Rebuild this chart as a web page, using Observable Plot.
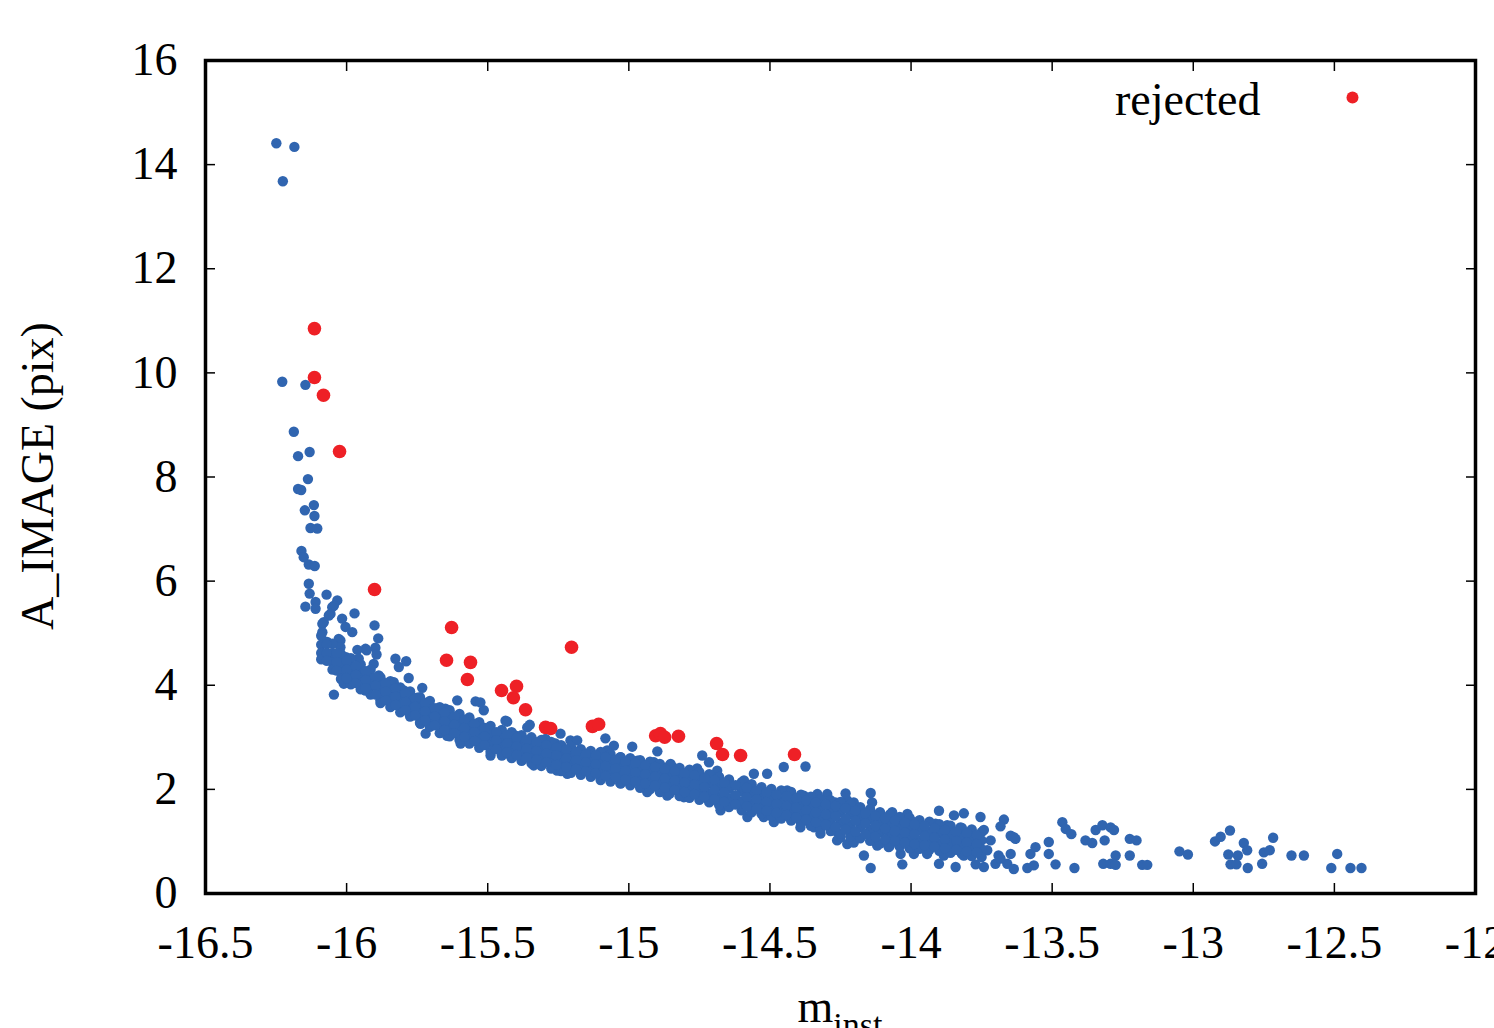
<!DOCTYPE html>
<html><head><meta charset="utf-8">
<script src="https://cdn.jsdelivr.net/npm/d3@7"></script>
<script src="https://cdn.jsdelivr.net/npm/@observablehq/plot@0.6"></script>
<style>
html,body{margin:0;padding:0;background:#fff;overflow:hidden;}
#chart svg{max-width:none !important;}
</style></head><body><div id="chart"></div>
<script>
// ---- tick values ----
const xTicks = [-16.5, -16, -15.5, -15, -14.5, -14, -13.5, -13, -12.5, -12];
const yTicks = [0, 2, 4, 6, 8, 10, 12, 14, 16];

// ---- rejected points (m_inst, A_IMAGE) ----
const rejectedMag = [-16.114,-16.114,-16.082,-16.025,-15.901,-15.628,-15.646,-15.561,-15.572,-15.203,-15.451,-15.398,-15.409,-15.366,-15.295,-15.277,-15.129,-15.107,-14.905,-14.888,-14.873,-14.824,-14.689,-14.668,-14.604,-14.413];
const rejectedA   = [10.85,9.91,9.57,8.49,5.84,5.11,4.48,4.44,4.11,4.73,3.90,3.98,3.76,3.53,3.19,3.17,3.21,3.25,3.03,3.07,3.00,3.02,2.88,2.67,2.65,2.67];

// ---- accepted points: bright tail ----
const acceptedBright = [[-16.249,14.41],[-16.185,14.34],[-16.226,13.68],[-16.228,9.83],[-16.146,9.77],[-16.187,8.87],[-16.172,8.40],[-16.131,8.48],[-16.137,7.96],[-16.172,7.77],[-16.161,7.75],[-16.116,7.46],[-16.148,7.36],[-16.114,7.25],[-16.128,7.02],[-16.104,7.01],[-16.160,6.58],[-16.152,6.46],[-16.134,6.32],[-16.113,6.29],[-16.134,5.95],[-16.131,5.76],[-16.071,5.74],[-16.033,5.63]];

// ---- accepted points: band, individually read ----
const acceptedBand = [[-16.110,5.60],[-16.146,5.51],[-16.110,5.47],[-16.045,5.53],[-16.051,5.50],[-15.972,5.38],[-16.057,5.37],[-16.063,5.34],[-16.016,5.28],[-16.081,5.21],[-16.086,5.18],[-15.901,5.15],[-16.004,5.12],[-16.086,5.02],[-15.980,5.02],[-16.069,4.83],[-16.028,4.89],[-16.022,4.86],[-15.888,4.90],[-15.898,4.72],[-15.933,4.70],[-16.022,4.73],[-15.962,4.68],[-15.929,4.67],[-15.894,4.59],[-16.063,4.51],[-16.002,4.54],[-15.957,4.51],[-15.827,4.51],[-15.789,4.46],[-16.016,4.35],[-15.962,4.28],[-15.904,4.41],[-15.815,4.35],[-15.886,4.19],[-15.780,4.14],[-16.010,4.03],[-15.951,4.06],[-15.833,4.06],[-15.732,3.95],[-15.933,3.90],[-15.874,3.93],[-16.045,3.82],[-15.797,3.90],[-15.750,3.76],[-15.880,3.71],[-15.833,3.64],[-15.774,3.64],[-15.608,3.71],[-15.543,3.69],[-15.714,3.58],[-15.650,3.55],[-15.514,3.52],[-15.774,3.45],[-15.679,3.42],[-15.585,3.32],[-15.738,3.26],[-15.632,3.32],[-15.537,3.26],[-15.720,3.07],[-15.644,3.03],[-15.561,3.07],[-15.478,3.07],[-15.596,2.88],[-15.502,2.94],[-15.431,2.94],[-15.437,3.32],[-15.431,3.30],[-15.360,3.19],
[-15.351,3.24],[-15.526,3.67],[-15.508,3.10],[-15.478,2.97],[-15.431,3.00],[-15.401,3.03],[-15.378,2.94],[-15.342,2.94],[-15.295,2.97],[-15.242,3.07],[-15.207,2.94],[-15.183,2.94],[-15.260,2.88],[-15.083,2.98],[-14.988,2.82],[-14.899,2.73],[-15.490,2.65],[-15.419,2.65],[-15.348,2.62],[-15.289,2.55],[-15.218,2.65],[-15.147,2.59],[-15.077,2.75],[-15.029,2.62],[-14.970,2.55],[-14.911,2.52],[-14.852,2.49],[-15.337,2.46],[-15.254,2.36],[-15.171,2.33],[-15.100,2.40],[-15.041,2.23],[-14.970,2.17],[-14.899,2.11],[-14.828,2.17],[-14.935,1.95],[-14.864,1.88],[-15.029,2.11],[-15.218,2.30],
[-15.053,2.84],[-14.740,2.65],[-14.716,2.52],[-14.687,2.36],[-14.557,2.30],[-14.510,2.30],[-14.451,2.43],[-14.374,2.44],[-15.100,2.55],[-14.959,2.40],[-14.846,2.43],[-14.793,2.30],[-14.758,2.40],[-15.100,2.23],[-14.817,2.11],[-14.746,2.04],[-14.722,1.82],[-14.651,2.11],[-14.592,2.17],[-14.628,1.85],[-14.580,1.47],[-14.545,1.72],[-14.522,1.47],[-14.486,1.37],[-14.486,1.85],[-14.439,1.98],[-14.415,1.66],[-14.368,1.53],[-14.344,1.27],[-14.297,1.91],[-14.332,1.91],[-14.274,1.53],[-14.250,1.08],[-14.226,1.34],[-14.226,1.79],[-14.226,0.95],[-14.392,1.27],[-14.321,1.15],[-14.675,1.60],[-14.805,1.85],[-14.864,2.17],[-14.982,2.23],
[-14.380,1.88],[-14.232,1.92],[-14.143,1.93],[-14.268,1.75],[-14.203,1.75],[-14.138,1.75],[-14.392,1.53],[-14.344,1.56],[-14.214,1.56],[-14.155,1.56],[-14.114,1.53],[-14.067,1.56],[-14.013,1.53],[-13.901,1.59],[-13.848,1.50],[-13.813,1.54],[-13.754,1.47],[-13.671,1.42],[-14.357,1.34],[-14.297,1.34],[-14.179,1.34],[-14.120,1.34],[-14.049,1.37],[-13.990,1.37],[-13.913,1.34],[-13.872,1.31],[-13.825,1.27],[-13.742,1.22],[-13.683,1.29],[-13.636,1.08],[-14.262,1.18],[-14.203,1.15],[-14.132,1.15],[-14.079,1.18],[-14.013,1.21],[-13.943,1.15],[-13.884,1.11],[-13.801,1.11],[-14.262,1.02],[-14.203,0.98],[-14.120,0.92],[-14.079,0.89],[-14.037,1.02],[-13.978,0.95],[-13.919,0.95],[-13.860,0.98],[-13.777,1.02],[-13.718,1.02],[-14.167,0.73],[-14.037,0.76],[-13.990,0.76],[-13.943,0.76],[-13.884,0.73],[-13.813,0.73],[-13.754,0.76],[-13.730,0.83],[-13.690,0.73],[-13.647,0.76],[-13.577,0.76],[-13.559,0.89],[-13.512,0.99],[-13.512,0.76],[-14.143,0.49],[-14.031,0.56],[-13.901,0.57],[-13.842,0.51],[-13.771,0.56],[-13.742,0.51],[-13.701,0.57],[-13.659,0.57],[-13.636,0.47],[-13.588,0.49],[-13.565,0.54]];

// ---- accepted points: dense core of the band (magnitude, A values read per column) ----
const acceptedCore = [
[-16.09,[4.95,4.78,4.62,4.50]],[-16.05,[4.80,4.62,4.45,4.30]],[-16.02,[4.60,4.42,4.25,4.12]],[-15.985,[4.52,4.35,4.18,4.02]],
[-15.95,[4.40,4.22,4.05,3.92]],[-15.915,[4.30,4.14,3.98,3.82]],[-15.88,[4.15,3.99,3.83,3.66]],[-15.845,[4.08,3.92,3.76,3.58]],
[-15.81,[3.96,3.80,3.64,3.48]],[-15.775,[3.88,3.72,3.56,3.40]],[-15.74,[3.77,3.61,3.45,3.28]],[-15.705,[3.70,3.54,3.38,3.20]],
[-15.67,[3.58,3.42,3.26,3.08]],[-15.635,[3.52,3.36,3.20,3.02]],[-15.60,[3.45,3.29,3.13,2.95]],[-15.565,[3.38,3.22,3.06,2.88]],
[-15.53,[3.29,3.13,2.97,2.80]],[-15.49,[3.22,3.06,2.90,2.72]],[-15.45,[3.14,2.98,2.82,2.65]],[-15.415,[3.10,2.93,2.77,2.60]],
[-15.38,[3.04,2.88,2.72,2.55]],[-15.345,[3.00,2.84,2.68,2.50]],[-15.31,[2.95,2.79,2.63,2.45]],[-15.275,[2.91,2.75,2.59,2.40]],
[-15.24,[2.85,2.70,2.54,2.35]],[-15.205,[2.82,2.66,2.50,2.32]],[-15.17,[2.77,2.62,2.46,2.28]],[-15.135,[2.74,2.58,2.42,2.24]],
[-15.10,[2.72,2.55,2.38,2.18]],[-15.065,[2.68,2.51,2.34,2.15]],[-15.03,[2.62,2.46,2.29,2.12]],[-14.995,[2.60,2.43,2.26,2.08]],
[-14.96,[2.56,2.39,2.21,2.03]],[-14.925,[2.53,2.36,2.18,2.00]],[-14.89,[2.49,2.32,2.14,1.95]],[-14.855,[2.46,2.28,2.10,1.92]],
[-14.82,[2.41,2.24,2.05,1.87]],[-14.785,[2.38,2.20,2.02,1.84]],[-14.75,[2.33,2.15,1.97,1.80]],[-14.715,[2.29,2.11,1.92,1.75]],
[-14.68,[2.24,2.06,1.87,1.70]],[-14.645,[2.19,2.01,1.82,1.66]],[-14.60,[2.14,1.96,1.77,1.60]],[-14.565,[2.10,1.92,1.73,1.56]],
[-14.53,[2.04,1.87,1.70,1.53]],[-14.495,[2.01,1.83,1.65,1.48]],[-14.46,[1.98,1.79,1.61,1.44]],[-14.425,[1.95,1.76,1.57,1.40]],
[-14.39,[1.90,1.72,1.53,1.35]],[-14.355,[1.86,1.68,1.48,1.30]],[-14.32,[1.81,1.63,1.44,1.25]],[-14.285,[1.79,1.60,1.40,1.20]],
[-14.25,[1.76,1.57,1.36,1.15]],[-14.215,[1.72,1.52,1.32,1.10]],[-14.18,[1.66,1.47,1.27,1.06]],[-14.145,[1.62,1.42,1.22,1.01]],
[-14.11,[1.56,1.37,1.17,0.96]],[-14.075,[1.52,1.33,1.12,0.92]],[-14.04,[1.47,1.28,1.08,0.90]],[-14.005,[1.45,1.25,1.05,0.87]],
[-13.97,[1.41,1.22,1.02,0.86]],[-13.935,[1.38,1.18,0.98,0.84]],[-13.90,[1.33,1.15,0.96,0.82]],[-13.86,[1.30,1.12,0.93,0.78]],
[-13.82,[1.26,1.08,0.90,0.76]],[-13.785,[1.23,1.05,0.87,0.72]],[-13.75,[1.18,1.02,0.85,0.70]]];

// ---- accepted points: dense core, in-between columns ----
const acceptedCoreMid = [
[-16.07,[4.79,4.62,4.47]],[-16.035,[4.61,4.44,4.28]],[-16.0,[4.47,4.30,4.14]],[-15.967,[4.37,4.20,4.04]],
[-15.932,[4.27,4.10,3.94]],[-15.897,[4.15,3.99,3.82]],[-15.862,[4.04,3.88,3.71]],[-15.827,[3.94,3.78,3.62]],
[-15.792,[3.84,3.68,3.52]],[-15.757,[3.75,3.59,3.42]],[-15.722,[3.66,3.50,3.33]],[-15.687,[3.56,3.40,3.23]],
[-15.652,[3.47,3.31,3.14]],[-15.617,[3.40,3.24,3.08]],[-15.582,[3.34,3.18,3.01]],[-15.547,[3.26,3.10,2.93]],
[-15.51,[3.18,3.02,2.85]],[-15.47,[3.10,2.94,2.77]],[-15.432,[3.04,2.88,2.71]],[-15.397,[2.99,2.83,2.66]],
[-15.362,[2.94,2.78,2.61]],[-15.327,[2.90,2.74,2.57]],[-15.292,[2.85,2.69,2.52]],[-15.257,[2.80,2.65,2.47]],
[-15.222,[2.76,2.60,2.43]],[-15.187,[2.72,2.56,2.39]],[-15.152,[2.68,2.52,2.35]],[-15.117,[2.65,2.48,2.31]],
[-15.082,[2.62,2.45,2.26]],[-15.047,[2.57,2.40,2.23]],[-15.012,[2.53,2.36,2.19]],[-14.977,[2.50,2.32,2.15]],
[-14.942,[2.46,2.29,2.11]],[-14.907,[2.43,2.25,2.07]],[-14.872,[2.39,2.21,2.03]],[-14.837,[2.35,2.17,1.99]],
[-14.802,[2.31,2.13,1.95]],[-14.767,[2.27,2.09,1.91]],[-14.732,[2.22,2.04,1.86]],[-14.697,[2.18,1.99,1.81]],
[-14.662,[2.13,1.94,1.76]],[-14.622,[2.08,1.89,1.71]],[-14.582,[2.03,1.85,1.67]],[-14.547,[1.98,1.81,1.63]],
[-14.512,[1.94,1.76,1.59]],[-14.477,[1.90,1.72,1.55]],[-14.442,[1.87,1.68,1.51]],[-14.407,[1.83,1.65,1.46]],
[-14.372,[1.79,1.60,1.42]],[-14.337,[1.75,1.56,1.37]],[-14.302,[1.71,1.52,1.32]],[-14.267,[1.68,1.48,1.28]],
[-14.232,[1.64,1.44,1.23]],[-14.197,[1.59,1.40,1.19]],[-14.162,[1.54,1.35,1.14]],[-14.127,[1.49,1.30,1.09]],
[-14.092,[1.45,1.25,1.04]],[-14.057,[1.40,1.20,1.01]],[-14.022,[1.36,1.17,0.98]],[-13.987,[1.33,1.14,0.95]],
[-13.952,[1.30,1.10,0.93]],[-13.917,[1.26,1.07,0.90]],[-13.88,[1.22,1.04,0.87]],[-13.84,[1.19,1.01,0.84]],
[-13.802,[1.16,0.98,0.81]],[-13.767,[1.12,0.95,0.79]]];

// ---- accepted points: faint end ----
const acceptedFaint = [[-13.647,1.11],[-13.630,1.05],[-13.683,0.67],[-13.488,0.56],[-13.421,0.49],[-13.464,1.37],[-13.452,1.24],[-13.432,1.14],[-13.382,1.02],[-13.358,0.97],[-13.346,1.22],[-13.322,1.31],[-13.293,1.27],[-13.281,1.22],[-13.314,1.02],[-13.319,0.57],[-13.293,0.57],[-13.275,0.73],[-13.275,0.55],[-13.225,1.05],[-13.201,1.02],[-13.225,0.73],[-13.181,0.55],[-13.163,0.55],[-13.049,0.81],[-13.019,0.75],[-12.923,1.00],[-12.903,1.09],[-12.870,1.21],[-12.821,0.97],[-12.809,0.83],[-12.876,0.75],[-12.842,0.73],[-12.868,0.56],[-12.847,0.56],[-12.807,0.49],[-12.756,0.57],[-12.750,0.79],[-12.729,0.83],[-12.717,1.07],[-12.652,0.73],[-12.608,0.73],[-12.490,0.76],[-12.511,0.49],[-12.443,0.49],[-12.404,0.49]];

// ---- build tables ----
const expand = cols => cols.flatMap(([m, as]) => as.map(a => [m, a]));
const accepted = [
  ...acceptedBright, ...acceptedBand,
  ...expand(acceptedCore), ...expand(acceptedCoreMid),
  ...acceptedFaint
].map(([m, a]) => ({m, a}));
const rejected = rejectedMag.map((m, i) => ({m, a: rejectedA[i]}));

const BLUE = "#3065b0", RED = "#ee2026";
const W = 1560, H = 1052;
const FONT = "'Liberation Serif', 'Times New Roman', Times, serif";

const svg = Plot.plot({
  width: W, height: H,
  marginLeft: 205, marginTop: 60, marginRight: W - 1475, marginBottom: H - 893,
  style: {fontFamily: FONT, fontSize: "46px", background: "#fff", color: "#000", overflow: "visible", maxWidth: "none"},
  x: {domain: [-16.5, -12]},
  y: {domain: [0, 16]},
  marks: [
    Plot.dot(accepted, {x: "m", y: "a", r: 5.2, fill: BLUE}),
    Plot.dot(rejected, {x: "m", y: "a", r: 6.8, fill: RED}),
    Plot.axisX(xTicks, {anchor: "bottom", tickSize: -10, tickPadding: 42, strokeWidth: 1.5, tickFormat: d => String(d), label: null, fontSize: 46}),
    Plot.axisX(xTicks, {anchor: "top", tickSize: -10, strokeWidth: 1.5, text: null, label: null}),
    Plot.axisY(yTicks, {anchor: "left", tickSize: -10, tickPadding: 38, strokeWidth: 1.5, tickFormat: d => String(d), label: null, fontSize: 46}),
    Plot.axisY(yTicks, {anchor: "right", tickSize: -10, strokeWidth: 1.5, text: null, label: null}),
    Plot.frame({stroke: "#000", strokeWidth: 3.5}),
    Plot.text(["rejected"], {frameAnchor: "top-right", dx: -215, dy: 40, textAnchor: "end", lineAnchor: "middle", fontSize: 46, fill: "#000"}),
    Plot.dot([0], {frameAnchor: "top-right", dx: -123, dy: 37, r: 6, fill: RED})
  ]
});
svg.style.maxWidth = "none";
svg.setAttribute("width", W);
svg.setAttribute("height", H);

const s = d3.select(svg);
// y-axis label
s.append("text")
  .attr("transform", "translate(42,476) rotate(-90)")
  .attr("text-anchor", "middle").attr("dominant-baseline", "middle")
  .style("font-family", FONT).style("font-size", "46px").attr("fill", "#000")
  .text("A_IMAGE (pix)");
// x-axis label with subscript
const xl = s.append("text")
  .attr("x", 840).attr("y", 1022)
  .attr("text-anchor", "middle")
  .style("font-family", FONT).style("font-size", "46px").attr("fill", "#000");
xl.append("tspan").text("m");
xl.append("tspan").attr("dy", 14).style("font-size", "34px").text("inst");

document.getElementById("chart").appendChild(svg);
</script>
</body></html>
